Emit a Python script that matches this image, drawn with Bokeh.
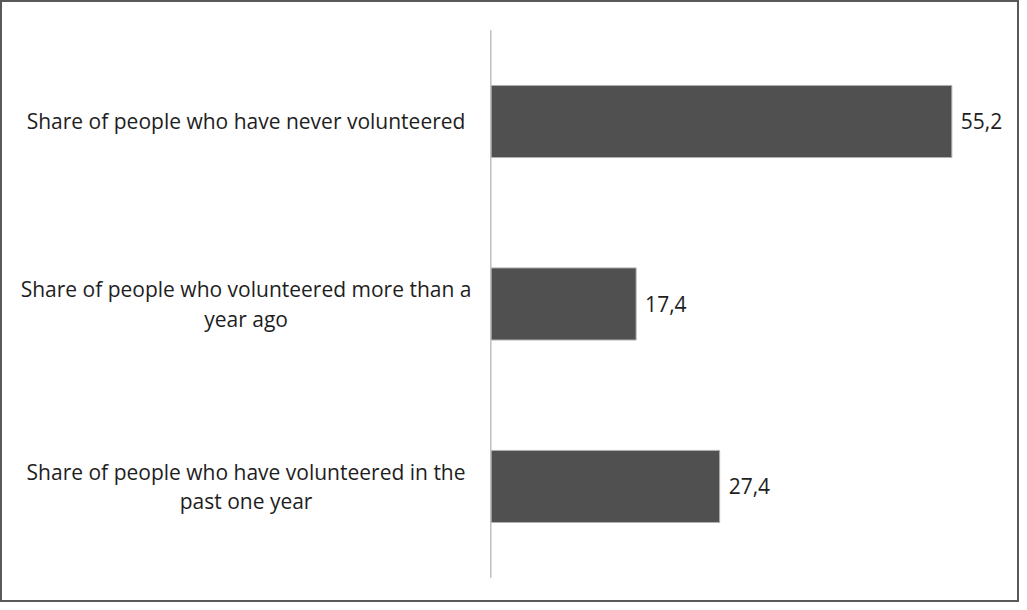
from bokeh.plotting import figure
from bokeh.models import Range1d, ColumnDataSource
from bokeh.core.properties import value
from bokeh.embed import file_html
from bokeh.resources import INLINE

categories = [
    "Share of people who have never volunteered",
    "Share of people who volunteered more than a\nyear ago",
    "Share of people who have volunteered in the\npast one year",
]
values = [55.2, 17.4, 27.4]
value_labels = [f"{v:.1f}".replace(".", ",") for v in values]

ypos = list(range(len(categories)))
n = len(categories)

src = ColumnDataSource(dict(
    y=ypos,
    v=values,
    lab=value_labels,
    cat=categories,
    cat_x=[-29.3] * n,
))

W, H = 1019, 602
p = figure(width=W, height=H, output_backend="svg", toolbar_location=None,
           x_range=Range1d(-58.7, 63.3), y_range=Range1d(n - 1 + 0.636, -0.663),
           x_axis_type=None, y_axis_type=None, min_border=0)
p.xgrid.visible = False
p.ygrid.visible = False
p.outline_line_color = "#595959"
p.outline_line_width = 3
p.background_fill_color = "white"
p.border_fill_color = "white"

p.hbar(y="y", left=0, right="v", height=0.395, source=src,
       fill_color="#505050", line_color="#b0b0b0", line_width=1)

# vertical category axis line
p.segment(x0=[0], y0=[-0.5], x1=[0], y1=[n - 0.5], line_color="#c0c0c0", line_width=1.5)

p.text(x="v", y="y", text="lab", source=src, x_offset=9,
       text_font=value("Open Sans"), text_font_size="21px", text_color="#1e1e1e",
       text_align="left", text_baseline="middle")

p.text(x="cat_x", y="y", text="cat", source=src,
       text_font=value("Open Sans"), text_font_size="21px", text_color="#1e1e1e",
       text_align="center", text_baseline="middle", text_line_height=1.05)

open("out.html", "w").write(file_html(p, INLINE))
